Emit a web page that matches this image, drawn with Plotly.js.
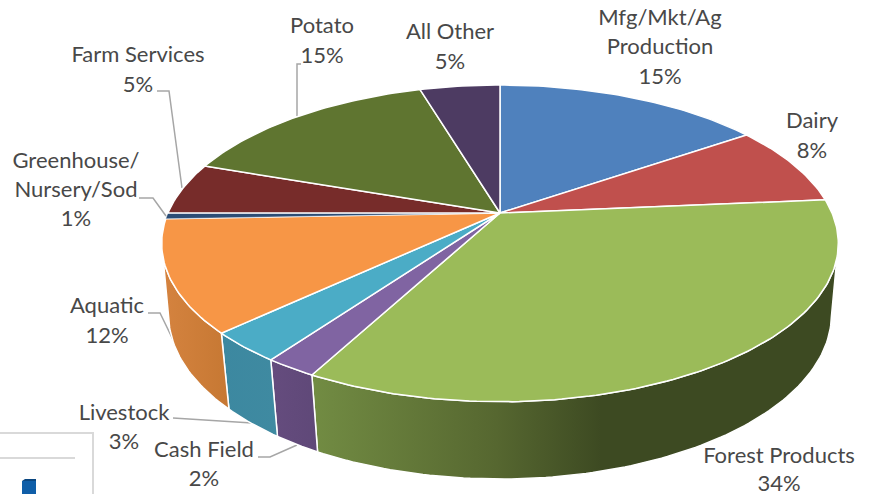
<!DOCTYPE html>
<html>
<head>
<meta charset="utf-8">
<script src="https://cdn.plot.ly/plotly-3.0.1.min.js"></script>
<style>html,body{margin:0;padding:0;background:#fff}#chart{width:869px;height:494px}</style>
</head>
<body>
<div id="chart"></div>
<script>
const categories = ["Mfg/Mkt/Ag Production","Dairy","Forest Products","Cash Field","Livestock","Aquatic","Greenhouse/Nursery/Sod","Farm Services","Potato","All Other"];
const shares = [15.4,8.2,34.2,2.1,3.1,11.4,0.6,5.3,15.1,4.6];
const topColors = ["#4f81bd","#c0504d","#9bbb59","#8064a2","#4bacc6","#f79646","#2c4d75","#772c2a","#5f7530","#4d3b62"];
const wallLeft  = {"Forest Products":"#728c43","Cash Field":"#654c7e","Livestock":"#3c88a0","Aquatic":"#d5833f"};
const wallRight = {"Forest Products":"#3d4a22","Cash Field":"#5f4878","Livestock":"#3f8aa1","Aquatic":"#c67833"};
const labelLines = ["Mfg/Mkt/Ag","Production","15%","Dairy","8%","Forest Products","34%","Cash Field","2%","Livestock","3%","Aquatic","12%","Greenhouse/","Nursery/Sod","1%","Farm Services","5%","Potato","15%","All Other","5%"];
const labelX = [660,660,660,812,812,779,779,204,204,124,124,107,107,76,76,76,138,138,322,322,450,450];
const labelY = [19,48,78,122,152,457,485,451,480,414,443,307,337,162,191,220,56,86,27,57,33,63];

// projection of the pie's circular plane onto the page
const CX=500, TOP={a:213,c:-111.6,k:0.192,w:332}, BOT={a:285,c:-107.8,k:0.18,w:326};
function pt(th,p){const s=Math.sin(th),v=Math.cos(th),d=1+p.k*v;return [CX+p.w*s/d,(p.a+p.c*v)/d];}
const rad=d=>d*Math.PI/180;
function arc(a,b,p){const xs=[],ys=[],n=Math.max(2,Math.ceil(Math.abs(b-a)));for(let i=0;i<=n;i++){const q=pt(rad(a+(b-a)*i/n),p);xs.push(q[0]);ys.push(q[1]);}return [xs,ys];}

const walls=[],faces=[];
let cum=0;
categories.forEach((name,i)=>{
  const a=cum*3.6,b=(cum+shares[i])*3.6;cum+=shares[i];
  const lo=Math.max(a,101),hi=Math.min(b,259);
  if(hi>lo){
    const t=arc(lo,hi,TOP),u=arc(hi,lo,BOT);
    const L=wallLeft[name],R=wallRight[name];
    let cs;
    if(name==="Forest Products"){cs=[[0,L],[0.35,"#566730"],[0.55,R],[1,R]];}
    else{cs=[[0,L],[1,R]];}
    walls.push({type:"scatter",mode:"lines",x:t[0].concat(u[0],[t[0][0]]),y:t[1].concat(u[1],[t[1][0]]),
      fill:"toself",fillgradient:{type:"horizontal",colorscale:cs},fillcolor:L,line:{color:"#ffffff",width:1.5},hoverinfo:"skip"});
  }
  const r=arc(a,b,TOP);
  faces.push({type:"scatter",mode:"lines",x:[CX].concat(r[0],[CX]),y:[TOP.a].concat(r[1],[TOP.a]),
    fill:"toself",fillcolor:topColors[i],line:{color:"#ffffff",width:shares[i]<1?0.4:1.5},name:name,hoverinfo:"skip"});
});
const labels={type:"scatter",mode:"text",x:labelX,y:labelY,text:labelLines,textposition:"middle center",
  textfont:{family:"Lato, 'Open Sans', sans-serif",size:22,color:"#484848"},hoverinfo:"skip"};

const gray={color:"#a6a6a6",width:1.5}, box={color:"#d9d9d9",width:2};
function path(d,line){return {type:"path",path:d,line:line,layer:"below"};}
const shapes=[
  path("M301,64 L297,64 L297,116",gray),
  path("M157,91 L169,91 L182,188",gray),
  path("M139,198 L153,198 L166,216",gray),
  path("M148,313 L160,313 L178,350",gray),
  path("M173,418 L252,423",gray),
  path("M258,457 L270,457 L297,445",gray),
  path("M0,433 L93,433 L93,494",box),
  path("M0,458 L75,458",box),
  {type:"rect",x0:22,x1:36,y0:481,y1:494,fillcolor:"#0f5ea8",line:{width:0}},
  {type:"path",path:"M22,481 L25,479 L36,479 L36,481 Z",fillcolor:"#0a4680",line:{width:0}}
];
Plotly.newPlot("chart",walls.concat(faces,[labels]),{
  width:869,height:494,margin:{l:0,r:0,t:0,b:0},showlegend:false,
  paper_bgcolor:"#ffffff",plot_bgcolor:"#ffffff",
  xaxis:{range:[0,869],visible:false,fixedrange:true},
  yaxis:{range:[494,0],visible:false,fixedrange:true},
  shapes:shapes
},{displayModeBar:false,staticPlot:true});
</script>
</body>
</html>
